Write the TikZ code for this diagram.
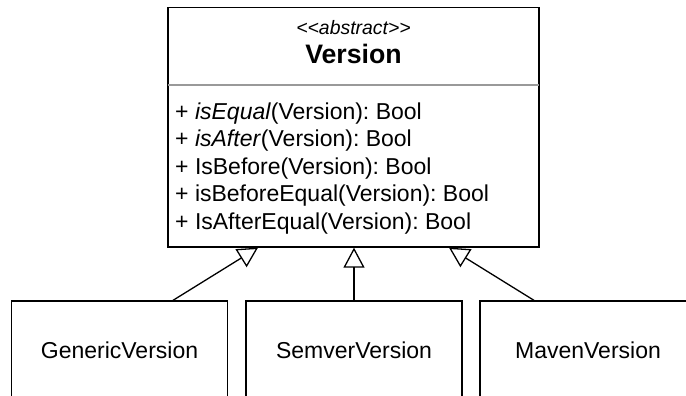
\documentclass[tikz,border=0pt]{standalone}
\usepackage{fontspec}
\setmainfont{Liberation Sans}
\usetikzlibrary{arrows.meta}
\definecolor{sepgray}{HTML}{999999}
\frenchspacing
\begin{document}
\begin{tikzpicture}[x=1pt,y=-1pt,
umlbox/.style={draw, line width=1.3pt, inner sep=0pt, minimum width=#1},
member/.style={anchor=base west, inner sep=0pt, font=\fontsize{23}{27}\selectfont},
childbox/.style={umlbox=216pt, minimum height=98pt, font=\fontsize{23}{27}\selectfont},
inherit/.style={-{Triangle[open, length=20pt, width=21pt]}, line width=1.3pt}
]
\clip (0,0) rectangle (686,396);

\node[umlbox=371pt, minimum height=239.5pt] (version) at (353.5,127.25) {};
\node[anchor=base, inner sep=0pt, font=\fontsize{19.4}{22}\selectfont\itshape] (stereo) at (353.5,35)
  {<\kern0pt<abstract>\kern0pt>};
\node[anchor=base, inner sep=0pt, font=\fontsize{26.7}{30}\selectfont\bfseries] (title) at (353.5,64) {Version};
\draw[sepgray, line width=1.3pt] ([xshift=0.65pt]version.west |- 0,85) -- ([xshift=-0.65pt]version.east |- 0,85);

\foreach \Txt [count=\i] in {{+ \textit{isEqual}(Version): Bool},
  {+ \textit{isAfter}(Version): Bool},
  {+ IsBefore(Version): Bool},
  {+ isBeforeEqual(Version): Bool},
  {+ IsAfterEqual(Version): Bool}}
  \node[member] (m\i) at (175,{91.5+27.5*\i}) {\Txt};

\node[childbox] (generic) at (119.5,350) {GenericVersion};
\node[childbox] (semver) at (354,350) {SemverVersion};
\node[childbox] (maven) at (588,350) {MavenVersion};

\draw[inherit] ([xshift=53.5pt]generic.north) -- ([xshift=-95.5pt]version.south);
\draw[inherit] (semver.north) -- (semver.north |- version.south);
\draw[inherit] ([xshift=-54pt]maven.north) -- ([xshift=95.5pt]version.south);

\end{tikzpicture}
\end{document}
